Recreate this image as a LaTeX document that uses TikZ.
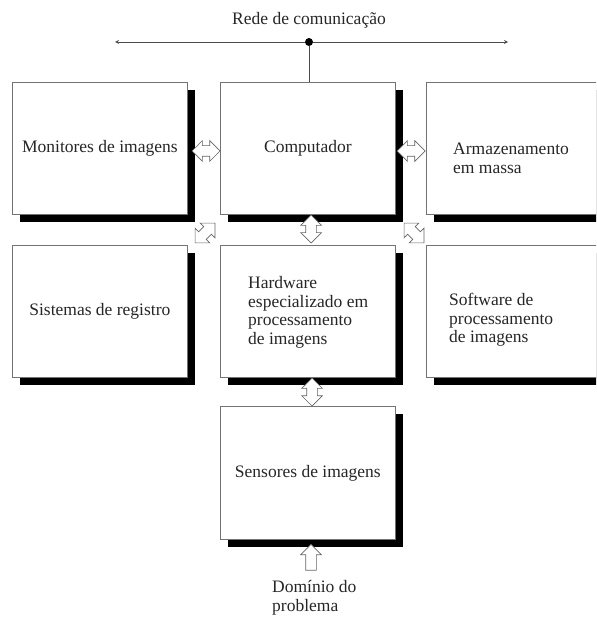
\documentclass[tikz,border=0pt]{standalone}
\usepackage{fontspec}
\setmainfont{Liberation Serif}
\usepackage{tikz}
\usetikzlibrary{arrows, shapes.arrows, shadows}

\tikzset{
  caixa/.style={draw=gray!90!black, line width=0.7pt, fill=white, anchor=north west,
    minimum width=175pt, minimum height=132pt, inner sep=0pt,
    drop shadow={shadow xshift=7.5pt, shadow yshift=-7.5pt, fill=black, opacity=1}},
  texto/.style={inner sep=0pt, align=left, text=black!85, font=\fontsize{17.5}{18.5}\selectfont},
  seta/.style={double arrow, draw=gray!80!black, fill=white, line width=0.7pt,
    inner xsep=0pt, inner ysep=5pt, minimum height=28pt, double arrow head extend=5pt},
  setaum/.style={single arrow, draw=gray!80!black, fill=white, line width=0.7pt,
    inner xsep=0pt, inner ysep=5pt, minimum height=26pt, single arrow head extend=5pt},
}

\begin{document}
\begin{tikzpicture}[x=1pt, y=-1pt]
    \useasboundingbox (0,0) rectangle (596,617);
    \clip (0,0) rectangle (596,617);

    % rede de comunicacao
    \node [texto] (rede) at (309,20) {Rede de comunicação};
    \coordinate (esq) at (115,42);
    \coordinate (dir) at (508,42);
    \node [circle, fill=black, inner sep=0pt, minimum size=8pt] (no) at (309,42) {};
    \draw [gray!60!black, line width=0.8pt, -stealth] (no) -- (esq);
    \draw [gray!60!black, line width=0.8pt, -stealth] (no) -- (dir);

    % caixas
    \node [caixa] (mon) at (12,82) {};
    \node [caixa] (comp) at (220,82) {};
    \node [caixa] (arm) at (426,82) {};
    \node [caixa] (reg) at (12,245) {};
    \node [caixa] (hw) at (220,245) {};
    \node [caixa] (soft) at (426,245) {};
    \node [caixa, minimum height=133pt] (sens) at (220,406) {};

    \draw [gray!60!black, line width=0.8pt] (no) -- (no |- comp.north);

    % textos
    \node [texto] (tmon) at (mon.center) {Monitores de imagens};
    \node [texto] (tcomp) at (comp.center) {Computador};
    \node [texto, anchor=west] (tarm) at (453,158.5) {Armazenamento\\em massa};
    \node [texto] (treg) at (reg.center) {Sistemas de registro};
    \node [texto, anchor=west] (thw) at (248,312.5) {Hardware\\especializado em\\processamento\\de imagens};
    \node [texto, anchor=west] (tsoft) at (449,320) {Software de\\processamento\\de imagens};
    \node [texto] (tsens) at (sens.center) {Sensores de imagens};
    \node [texto, anchor=west] (tdom) at (272,598) {Domínio do\\problema};

    % setas
    \node [seta] (s1) at (206,151) {};
    \node [seta] (s2) at (411,151) {};
    \node [seta, rotate=90] (s3) at (311,229) {};
    \node [seta, rotate=45] (s4) at (205,233) {};
    \node [seta, rotate=-45] (s5) at (414,233) {};
    \node [seta, rotate=90] (s6) at (312,392) {};
    \node [setaum, rotate=90] (s7) at (311,560) {};
\end{tikzpicture}
\end{document}
